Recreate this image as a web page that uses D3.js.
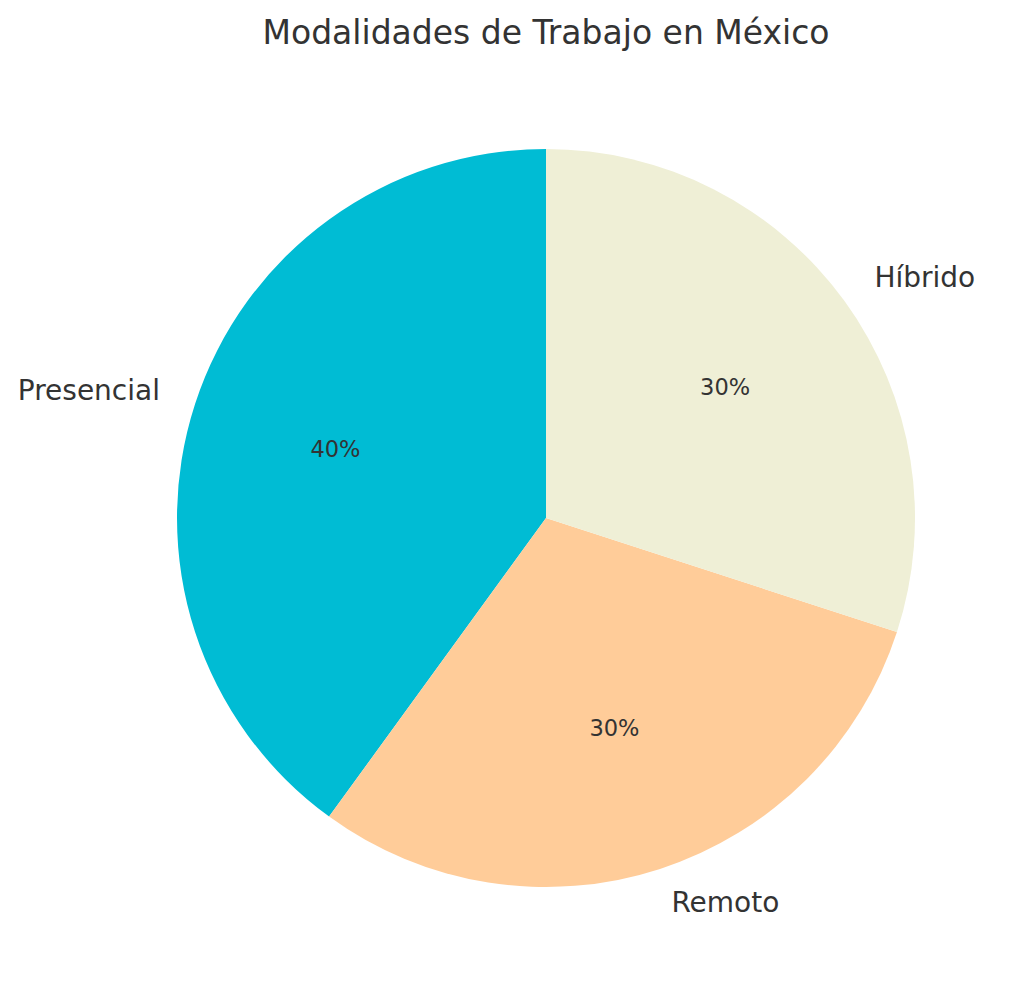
<!DOCTYPE html>
<html>
<head>
<meta charset="utf-8">
<script src="https://cdn.jsdelivr.net/npm/d3@7"></script>
<style>
  html, body { margin: 0; padding: 0; background: #ffffff; }
  svg { display: block; font-family: "DejaVu Sans", sans-serif; }
</style>
</head>
<body>
<svg id="chart" width="1024" height="997"></svg>
<script>
const title = "Modalidades de Trabajo en México";
const categories = ["Presencial", "Remoto", "Híbrido"];
const values = [40, 30, 30];
const colors = ["#00BCD4", "#FFCC99", "#EFEFD6"];

const W = 1024, H = 997;
const cx = 546, cy = 518, R = 369;
const svg = d3.select("#chart");

svg.append("text")
  .attr("x", cx).attr("y", 44)
  .attr("text-anchor", "middle")
  .attr("font-size", 33)
  .attr("fill", "#333333")
  .text(title);

const data = categories.map((c, i) => ({ label: c, value: values[i], color: colors[i] }));

// matplotlib style: start at 90° and go counterclockwise.
const pie = d3.pie().value(d => d.value).sort(null)
  .startAngle(0).endAngle(-2 * Math.PI);
const arcs = pie(data);
const arc = d3.arc().innerRadius(0).outerRadius(R);

const g = svg.append("g").attr("transform", `translate(${cx},${cy})`);

g.selectAll("path.slice").data(arcs).enter().append("path")
  .attr("class", "slice")
  .attr("d", arc)
  .attr("fill", d => d.data.color);

function pos(d, k) {
  const a = (d.startAngle + d.endAngle) / 2;
  return [k * R * Math.sin(a), -k * R * Math.cos(a)];
}

g.selectAll("text.label").data(arcs).enter().append("text")
  .attr("class", "label")
  .attr("x", d => pos(d, 1.1)[0])
  .attr("y", d => pos(d, 1.1)[1] - 2)
  .attr("text-anchor", d => pos(d, 1.1)[0] < 0 ? "end" : "start")
  .attr("dominant-baseline", "central")
  .attr("font-size", 28)
  .attr("fill", "#333333")
  .text(d => d.data.label);

const total = d3.sum(values);
g.selectAll("text.pct").data(arcs).enter().append("text")
  .attr("class", "pct")
  .attr("x", d => pos(d, 0.6)[0])
  .attr("y", d => pos(d, 0.6)[1] - 1)
  .attr("text-anchor", "middle")
  .attr("dominant-baseline", "central")
  .attr("font-size", 22.5)
  .attr("fill", "#333333")
  .text(d => Math.round(d.data.value / total * 100) + "%");
</script>
</body>
</html>
